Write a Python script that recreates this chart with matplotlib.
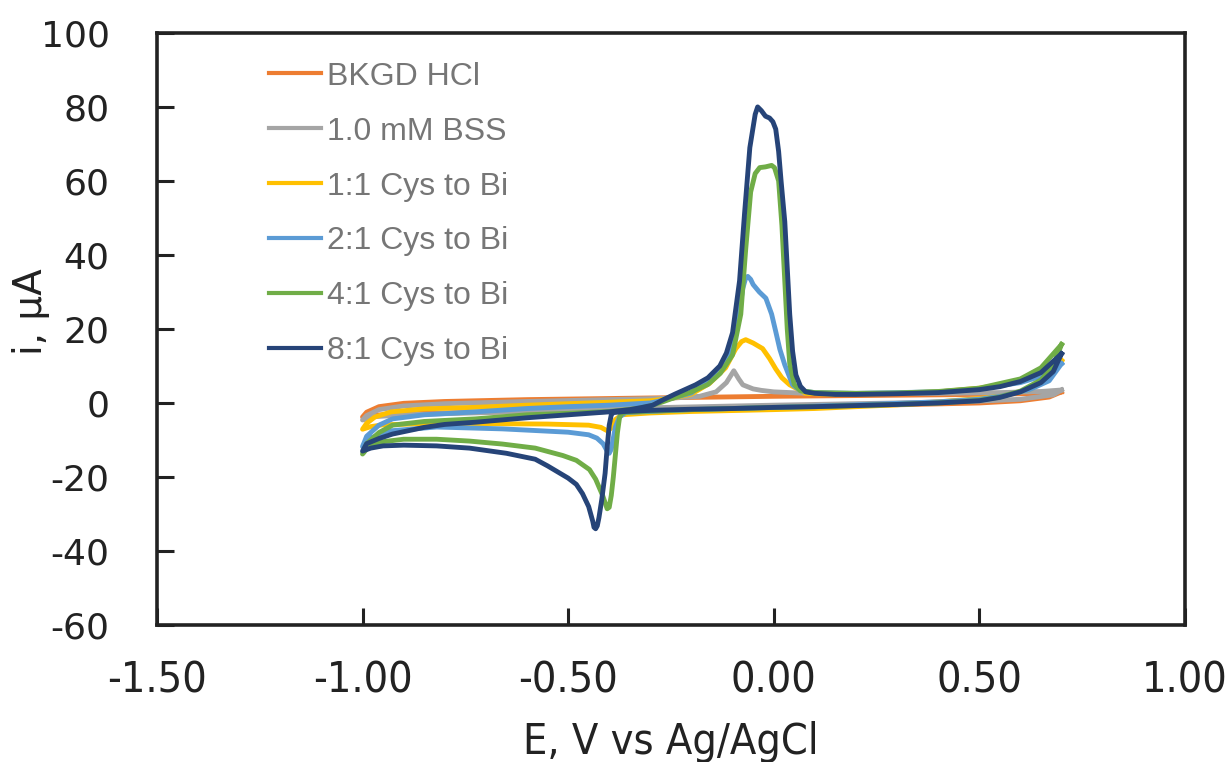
import matplotlib
matplotlib.use("Agg")
import matplotlib.pyplot as plt
from matplotlib import font_manager

# cyclic voltammograms, each scanned 0.70 V -> -1.00 V -> 0.70 V
e_bkgd = [0.70, 0.67, 0.60, 0.50, 0.30, 0.00, -0.30, -0.50, -0.70, -0.90, -0.97, -1.00,
          -0.99, -0.96, -0.90, -0.80, -0.60, -0.40, -0.20, 0.00, 0.20, 0.40, 0.55, 0.65, 0.70]
i_bkgd = [3.0, 1.6, 0.6, 0.0, -0.5, -1.0, -1.6, -2.0, -2.5, -2.9, -3.3, -3.8,
          -2.5, -1.0, -0.1, 0.4, 0.9, 1.2, 1.5, 1.8, 2.0, 2.2, 2.4, 2.6, 3.0]

e_bss = [0.70, 0.68, 0.60, 0.50, 0.30, 0.00, -0.30, -0.50, -0.70, -0.90, -0.97, -1.00,
         -0.99, -0.96, -0.90, -0.80, -0.60, -0.40, -0.25, -0.18, -0.14, -0.115, -0.097,
         -0.085, -0.075, -0.05, -0.03, 0.00, 0.08, 0.20, 0.40, 0.55, 0.65, 0.70]
i_bss = [3.5, 2.2, 1.0, 0.5, 0.0, -0.6, -1.3, -2.0, -2.6, -3.2, -3.7, -4.6,
         -3.4, -1.8, -0.8, -0.2, 0.4, 0.9, 1.3, 1.8, 3.0, 5.5, 8.7,
         6.5, 4.9, 3.8, 3.4, 3.0, 2.6, 2.5, 2.6, 2.8, 3.1, 3.5]

e_1to1 = [0.70, 0.67, 0.62, 0.55, 0.50, 0.40, 0.30, 0.10, 0.00, -0.20, -0.30, -0.37,
          -0.385, -0.395, -0.405, -0.42, -0.45, -0.55, -0.70, -0.85, -0.95, -0.98, -1.00,
          -0.99, -0.97, -0.93, -0.85, -0.73, -0.60, -0.40, -0.30, -0.25, -0.20, -0.156,
          -0.117, -0.092, -0.078, -0.068, -0.05, -0.027, -0.01, 0.005, 0.02, 0.039, 0.078,
          0.15, 0.30, 0.40, 0.50, 0.60, 0.65, 0.70]
i_1to1 = [11.5, 6.5, 3.5, 1.8, 1.2, 0.3, -0.5, -1.5, -1.8, -2.3, -2.7, -3.2,
          -4.5, -6.8, -7.5, -6.6, -6.0, -5.7, -5.6, -5.6, -5.9, -6.4, -7.1,
          -5.5, -3.8, -2.4, -1.6, -1.2, -0.6, 0.2, 0.6, 1.2, 2.4, 5.3,
          9.5, 14.7, 16.6, 17.1, 16.2, 14.7, 12.0, 9.2, 6.8, 4.9, 2.6,
          2.3, 2.6, 3.0, 4.0, 5.8, 7.7, 11.5]

e_2to1 = [0.70, 0.67, 0.62, 0.55, 0.50, 0.40, 0.20, 0.00, -0.20, -0.30, -0.36, -0.375,
          -0.385, -0.39, -0.395, -0.40, -0.405, -0.415, -0.43, -0.45, -0.50, -0.66, -0.82,
          -0.94, -0.98, -1.00,
          -0.99, -0.96, -0.927, -0.85, -0.725, -0.60, -0.50, -0.40, -0.30, -0.25, -0.20,
          -0.148, -0.107, -0.088, -0.075, -0.068, -0.063, -0.056, -0.05, -0.035, -0.019,
          -0.005, 0.005, 0.015, 0.027, 0.046, 0.065, 0.10, 0.20, 0.40, 0.50, 0.60, 0.65,
          0.70]
i_2to1 = [10.6, 6.0, 3.5, 1.8, 1.0, 0.3, -0.5, -1.2, -1.8, -2.3, -2.6, -3.8,
          -6.5, -9.5, -12.5, -13.6, -13.0, -11.0, -9.5, -8.6, -7.9, -7.0, -6.5,
          -7.6, -9.5, -11.8,
          -9.0, -6.0, -4.3, -3.2, -2.4, -1.5, -1.0, -0.6, 0.0, 1.2, 2.7,
          7.6, 13.0, 22.0, 31.0, 33.8, 34.2, 33.4, 32.0, 30.0, 28.3,
          24.0, 19.3, 14.5, 10.3, 4.9, 3.3, 2.8, 2.6, 3.0, 3.8, 5.5, 7.2,
          10.6]

e_4to1 = [0.70, 0.68, 0.65, 0.60, 0.55, 0.50, 0.40, 0.30, 0.20, 0.10, 0.00, -0.10,
          -0.20, -0.30, -0.36, -0.37, -0.375, -0.38, -0.385, -0.39, -0.395, -0.40,
          -0.405, -0.416, -0.433, -0.448, -0.48, -0.513, -0.58, -0.66, -0.74, -0.82,
          -0.90, -0.96, -0.985, -1.00,
          -0.99, -0.96, -0.927, -0.85, -0.725, -0.60, -0.50, -0.40, -0.33, -0.30, -0.27,
          -0.24, -0.20, -0.16, -0.13, -0.10, -0.08, -0.068, -0.056, -0.045, -0.034,
          -0.02, -0.005, 0.002, 0.012, 0.02, 0.027, 0.033, 0.039, 0.05, 0.065, 0.10,
          0.20, 0.30, 0.40, 0.50, 0.60, 0.65, 0.70]
i_4to1 = [15.8, 10.0, 6.2, 3.2, 1.6, 0.7, 0.0, -0.4, -0.7, -1.0, -1.2, -1.5,
          -1.8, -2.2, -2.5, -2.9, -4.0, -8.0, -14.0, -20.0, -25.0, -28.2,
          -28.6, -25.0, -20.6, -18.0, -15.5, -14.2, -12.2, -11.1, -10.3, -9.8,
          -9.8, -10.6, -11.8, -13.8,
          -11.0, -8.0, -6.0, -5.0, -4.3, -3.2, -2.8, -2.3, -1.5, -0.8, 0.3,
          1.5, 3.0, 5.0, 8.0, 13.0, 24.0, 41.6, 57.0, 62.0, 63.6,
          63.8, 64.2, 63.6, 60.0, 48.0, 33.0, 20.0, 10.6, 5.0, 3.3, 2.8,
          2.6, 2.7, 3.1, 4.0, 6.5, 9.5, 15.8]

e_8to1 = [0.70, 0.68, 0.65, 0.60, 0.55, 0.50, 0.40, 0.30, 0.20, 0.10, 0.00, -0.10,
          -0.20, -0.30, -0.36, -0.39, -0.395, -0.40, -0.405, -0.41, -0.418, -0.425,
          -0.429, -0.433, -0.437, -0.44, -0.45, -0.465, -0.48, -0.50, -0.55, -0.58,
          -0.65, -0.74, -0.82, -0.90, -0.95, -0.98, -1.00,
          -0.99, -0.96, -0.927, -0.85, -0.80, -0.725, -0.60, -0.50, -0.40, -0.35, -0.32,
          -0.294, -0.27, -0.24, -0.19, -0.16, -0.131, -0.115, -0.10, -0.083, -0.071,
          -0.058, -0.045, -0.039, -0.03, -0.02, -0.01, -0.002, 0.005, 0.012, 0.018,
          0.027, 0.039, 0.046, 0.054, 0.065, 0.078, 0.10, 0.15, 0.20, 0.30, 0.40,
          0.50, 0.55, 0.60, 0.65, 0.70]
i_8to1 = [13.3, 8.5, 5.5, 3.0, 1.5, 0.6, 0.0, -0.4, -0.7, -1.0, -1.2, -1.5,
          -1.7, -2.0, -2.3, -2.6, -3.2, -6.0, -12.0, -19.0, -26.0, -31.0,
          -33.2, -34.0, -33.6, -32.0, -28.0, -24.5, -22.0, -20.3, -17.0, -15.2,
          -13.6, -12.2, -11.6, -11.4, -11.6, -12.2, -13.0,
          -11.0, -9.6, -8.4, -6.6, -5.8, -5.2, -4.0, -3.2, -2.4, -1.8, -1.2,
          -0.6, 0.8, 2.4, 4.9, 6.8, 10.0, 13.5, 19.0, 33.0, 51.0,
          69.0, 78.0, 80.0, 79.0, 77.5, 77.0, 76.0, 74.0, 68.0, 60.0,
          49.0, 24.0, 14.0, 7.6, 4.5, 3.0, 2.6, 2.3, 2.3, 2.5, 2.8,
          3.6, 4.4, 5.8, 8.2, 13.3]

series = [
    ("BKGD HCl", e_bkgd, i_bkgd, "#ED7D31"),
    ("1.0 mM BSS", e_bss, i_bss, "#A5A5A5"),
    ("1:1 Cys to Bi", e_1to1, i_1to1, "#FFC000"),
    ("2:1 Cys to Bi", e_2to1, i_2to1, "#5B9BD5"),
    ("4:1 Cys to Bi", e_4to1, i_4to1, "#70AD47"),
    ("8:1 Cys to Bi", e_8to1, i_8to1, "#264478"),
]

# pick a narrow face for the x axis texts if one is installed
fonts = font_manager.fontManager.ttflist
names = {f.name for f in fonts}
if "Liberation Sans Narrow" in names:
    xfont = dict(fontfamily="Liberation Sans Narrow", fontsize=35)
elif any(f.name == "DejaVu Sans" and "condensed" in str(f.stretch) for f in fonts):
    xfont = dict(fontfamily="DejaVu Sans", fontstretch="condensed", fontsize=31)
else:
    xfont = dict(fontfamily="Liberation Sans", fontsize=31)

dark = "#222222"

fig = plt.figure(figsize=(12.31, 7.62), dpi=100)
ax = fig.add_axes([0.1275, 0.1798, 0.835, 0.777])

for label, e, i, color in series:
    ax.plot(e, i, color=color, lw=3.5, label=label, solid_joinstyle="round")

ax.set_xlim(-1.5, 1.0)
ax.set_ylim(-60, 100)
ax.set_xticks([-1.5, -1.0, -0.5, 0.0, 0.5, 1.0])
ax.set_xticklabels(["-1.50", "-1.00", "-0.50", "0.00", "0.50", "1.00"], color=dark, **xfont)
ax.set_yticks(range(-60, 101, 20))
ax.set_yticklabels([str(v) for v in range(-60, 101, 20)], fontfamily="DejaVu Sans",
                   fontsize=26, color=dark)
ax.tick_params(axis="both", direction="in", length=12, width=2.2, color=dark)
ax.tick_params(axis="x", pad=25)
ax.tick_params(axis="y", pad=34)
for sp in ax.spines.values():
    sp.set_linewidth(2.6)
    sp.set_color(dark)

ax.set_xlabel("E, V vs Ag/AgCl", color=dark, labelpad=14, **xfont)
ax.set_ylabel("i, µA", fontfamily="DejaVu Sans", fontsize=28, color=dark)
ax.yaxis.set_label_coords(-0.104, 0.529)

leg = ax.legend(loc="upper left", bbox_to_anchor=(0.081, 1.0), frameon=False,
                labelcolor="#767676", handlelength=1.63, handletextpad=0.18,
                labelspacing=0.78, prop={"family": "Liberation Sans", "size": 23})
for h in leg.legend_handles:
    h.set_linewidth(3.0)

fig.savefig("out.png", dpi=100)
